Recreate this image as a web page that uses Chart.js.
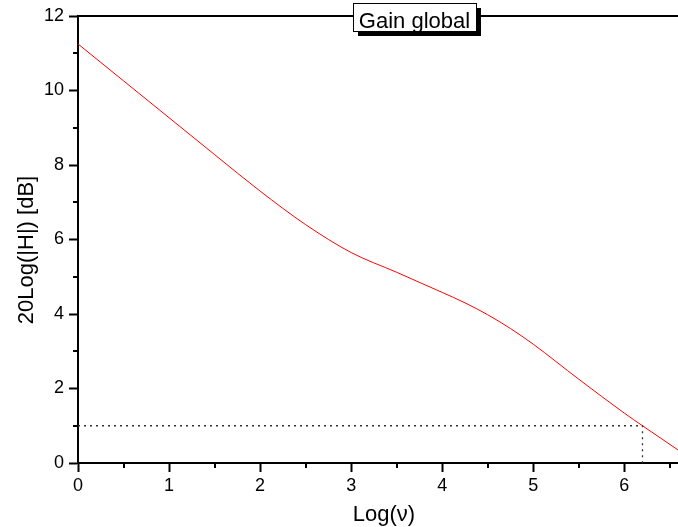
<!DOCTYPE html>
<html>
<head>
<meta charset="utf-8">
<script src="https://cdn.jsdelivr.net/npm/chart.js@4.4.1/dist/chart.umd.min.js"></script>
<style>
  html, body { margin: 0; padding: 0; background: #fff; }
  #wrap { width: 678px; height: 527px; }
</style>
</head>
<body>
<div id="wrap"><canvas id="c" width="678" height="527"></canvas></div>
<script>
// ---- data ----
const logNu = [0, 0.5, 1, 1.5, 2, 2.5, 3, 3.5, 4, 4.25, 4.5, 4.75, 5, 5.5, 6, 6.2, 6.59];
const gainDb = [11.25, 10.26, 9.27, 8.28, 7.30, 6.40, 5.65, 5.12, 4.58, 4.30, 3.98, 3.61, 3.19, 2.25, 1.34, 1.0, 0.35];
const cutoffX = [0, 6.2, 6.2];
const cutoffY = [1, 1, 0];
const xTicks = [0, 1, 2, 3, 4, 5, 6];
const yTicks = [0, 2, 4, 6, 8, 10, 12];
const xMinor = [0.5, 1.5, 2.5, 3.5, 4.5, 5.5, 6.5];
const yMinor = [1, 3, 5, 7, 9, 11];
const titleText = 'Gain global';
const xTitle = 'Log(\u03BD)';
const yTitle = '20Log(|H|) [dB]';

const FONT = 'Arial, "Liberation Sans", sans-serif';

const decorPlugin = {
  id: 'decor',
  afterDraw(chart) {
    const ctx = chart.ctx;
    const xs = chart.scales.x, ys = chart.scales.y;
    const a = chart.chartArea;
    ctx.save();
    ctx.strokeStyle = '#000';
    ctx.lineWidth = 2;
    // top frame line
    ctx.beginPath();
    ctx.moveTo(a.left - 1, a.top);
    ctx.lineTo(a.right, a.top);
    ctx.stroke();
    // minor ticks
    ctx.beginPath();
    xMinor.forEach(v => {
      const px = Math.round(xs.getPixelForValue(v));
      if (px <= a.right) { ctx.moveTo(px, a.bottom); ctx.lineTo(px, a.bottom + 5); }
    });
    yMinor.forEach(v => {
      const py = Math.round(ys.getPixelForValue(v));
      ctx.moveTo(a.left, py); ctx.lineTo(a.left - 5, py);
    });
    ctx.stroke();
    // axis titles
    ctx.fillStyle = '#000';
    ctx.font = '22px ' + FONT;
    ctx.textAlign = 'center';
    ctx.textBaseline = 'alphabetic';
    ctx.fillText(xTitle, 384, 521);
    ctx.save();
    ctx.translate(33, 250);
    ctx.rotate(-Math.PI / 2);
    ctx.fillText(yTitle, 0, 0);
    ctx.restore();
    // title box with shadow
    ctx.font = '22px ' + FONT;
    const tw = ctx.measureText(titleText).width;
    const bw = Math.round(tw + 12), bh = 28;
    const cx = 414, cy = 17;
    const bx = Math.round(cx - bw / 2), by = Math.round(cy - bh / 2);
    ctx.fillStyle = '#000';
    ctx.fillRect(bx + 5, by + 5, bw, bh);
    ctx.fillStyle = '#fff';
    ctx.fillRect(bx, by, bw, bh);
    ctx.lineWidth = 1;
    ctx.strokeStyle = '#000';
    ctx.strokeRect(bx + 0.5, by + 0.5, bw, bh);
    ctx.fillStyle = '#000';
    ctx.textBaseline = 'alphabetic';
    ctx.fillText(titleText, cx + 0.5, 28);
    ctx.restore();
  }
};

new Chart(document.getElementById('c'), {
  type: 'line',
  data: {
    datasets: [
      {
        data: logNu.map((x, i) => ({ x, y: gainDb[i] })),
        borderColor: '#ff0000',
        borderWidth: 1,
        pointRadius: 0,
        cubicInterpolationMode: 'monotone',
        fill: false
      },
      {
        data: cutoffX.map((x, i) => ({ x, y: cutoffY[i] })),
        borderColor: '#333',
        borderWidth: 1.3,
        borderDash: [2, 4],
        pointRadius: 0,
        tension: 0,
        fill: false
      }
    ]
  },
  options: {
    responsive: false,
    animation: false,
    devicePixelRatio: 1,
    layout: { padding: { top: 16, left: 0, right: 0, bottom: 0 } },
    plugins: { legend: { display: false }, tooltip: { enabled: false }, title: { display: false } },
    scales: {
      x: {
        type: 'linear',
        min: 0,
        max: 6.59,
        afterBuildTicks: s => { s.ticks = xTicks.map(v => ({ value: v })); },
        afterFit: s => { s.height = 64; },
        grid: { drawOnChartArea: false, drawTicks: true, tickLength: 9, tickWidth: 2, tickColor: '#000' },
        border: { display: true, width: 2, color: '#000' },
        ticks: { color: '#000', font: { size: 18, family: FONT }, padding: 3, maxRotation: 0, autoSkip: false }
      },
      y: {
        type: 'linear',
        min: 0,
        max: 12,
        afterBuildTicks: s => { s.ticks = yTicks.map(v => ({ value: v })); },
        afterFit: s => { s.width = 78; },
        grid: { drawOnChartArea: false, drawTicks: true, tickLength: 9, tickWidth: 2, tickColor: '#000' },
        border: { display: true, width: 2, color: '#000' },
        ticks: { color: '#000', font: { size: 18, family: FONT }, padding: 5, autoSkip: false }
      }
    }
  },
  plugins: [decorPlugin]
});
</script>
</body>
</html>
